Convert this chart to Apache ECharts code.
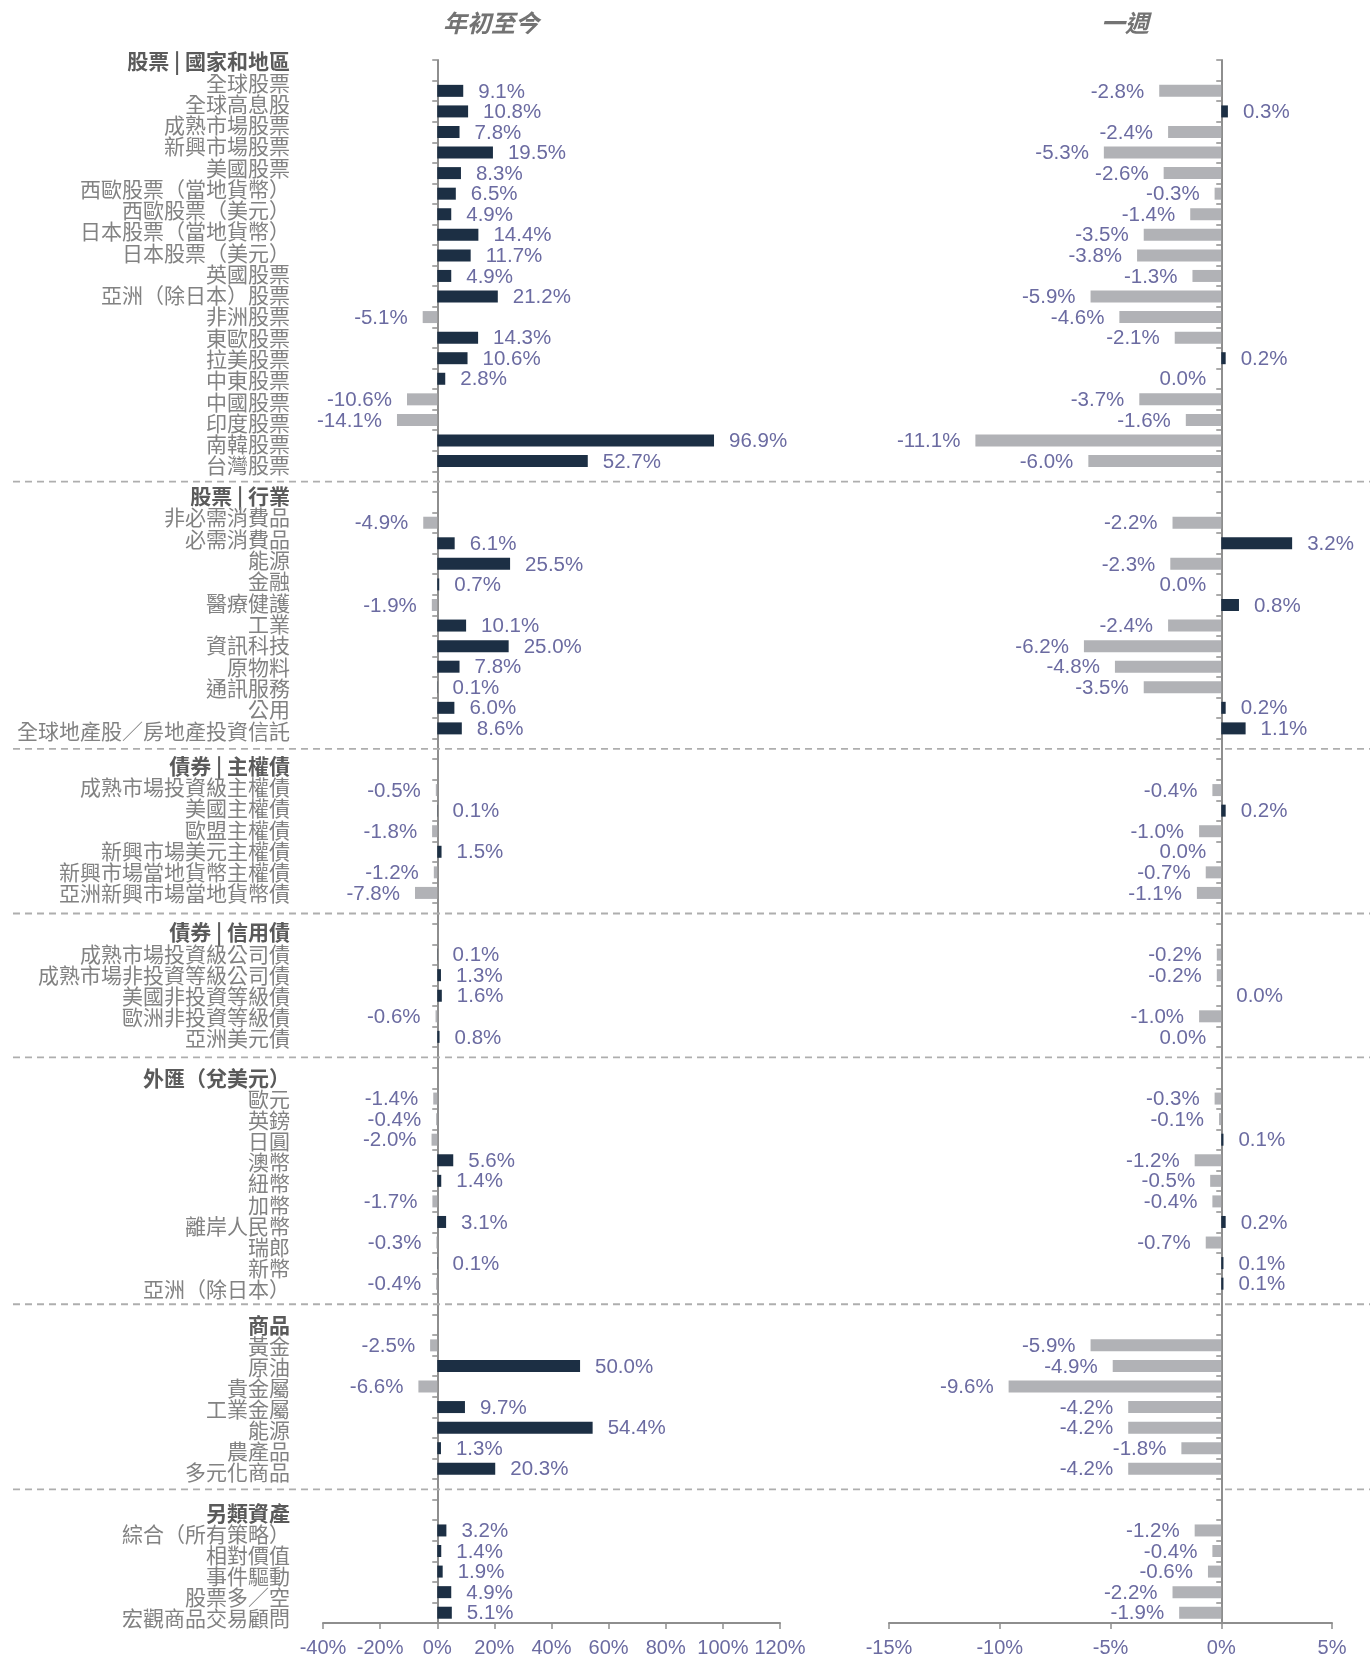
<!DOCTYPE html>
<html>
<head>
<meta charset="utf-8">
<script src="https://cdn.jsdelivr.net/npm/echarts@6/dist/echarts.min.js"></script>
<style>
  html, body { margin: 0; padding: 0; background: #fff; }
  #chart { width: 1370px; height: 1658px; }
</style>
</head>
<body>
<div id="chart"></div>
<script>
// 股票 | 國家和地區
const countryTitle = '股票 | 國家和地區'
const countryNames = ['全球股票', '全球高息股', '成熟市場股票', '新興市場股票', '美國股票', '西歐股票（當地貨幣）', '西歐股票（美元）', '日本股票（當地貨幣）', '日本股票（美元）', '英國股票', '亞洲（除日本）股票', '非洲股票', '東歐股票', '拉美股票', '中東股票', '中國股票', '印度股票', '南韓股票', '台灣股票']
const countryYtd = [9.1, 10.8, 7.8, 19.5, 8.3, 6.5, 4.9, 14.4, 11.7, 4.9, 21.2, -5.1, 14.3, 10.6, 2.8, -10.6, -14.1, 96.9, 52.7]
// -0.0 = a small loss that rounds to 0.0% (its label sits on the left)
const countryWeek = [-2.8, 0.3, -2.4, -5.3, -2.6, -0.3, -1.4, -3.5, -3.8, -1.3, -5.9, -4.6, -2.1, 0.2, -0.0, -3.7, -1.6, -11.1, -6.0]

// 股票 | 行業
const sectorTitle = '股票 | 行業'
const sectorNames = ['非必需消費品', '必需消費品', '能源', '金融', '醫療健護', '工業', '資訊科技', '原物料', '通訊服務', '公用', '全球地產股／房地產投資信託']
const sectorYtd = [-4.9, 6.1, 25.5, 0.7, -1.9, 10.1, 25.0, 7.8, 0.1, 6.0, 8.6]
const sectorWeek = [-2.2, 3.2, -2.3, -0.0, 0.8, -2.4, -6.2, -4.8, -3.5, 0.2, 1.1]

// 債券 | 主權債
const sovTitle = '債券 | 主權債'
const sovNames = ['成熟市場投資級主權債', '美國主權債', '歐盟主權債', '新興市場美元主權債', '新興市場當地貨幣主權債', '亞洲新興市場當地貨幣債']
const sovYtd = [-0.5, 0.1, -1.8, 1.5, -1.2, -7.8]
const sovWeek = [-0.4, 0.2, -1.0, -0.0, -0.7, -1.1]

// 債券 | 信用債
const creditTitle = '債券 | 信用債'
const creditNames = ['成熟市場投資級公司債', '成熟市場非投資等級公司債', '美國非投資等級債', '歐洲非投資等級債', '亞洲美元債']
const creditYtd = [0.1, 1.3, 1.6, -0.6, 0.8]
const creditWeek = [-0.2, -0.2, 0.0, -1.0, -0.0]

// 外匯（兌美元）
const fxTitle = '外匯（兌美元）'
const fxNames = ['歐元', '英鎊', '日圓', '澳幣', '紐幣', '加幣', '離岸人民幣', '瑞郎', '新幣', '亞洲（除日本）']
const fxYtd = [-1.4, -0.4, -2.0, 5.6, 1.4, -1.7, 3.1, -0.3, 0.1, -0.4]
const fxWeek = [-0.3, -0.1, 0.1, -1.2, -0.5, -0.4, 0.2, -0.7, 0.1, 0.1]

// 商品
const cmdTitle = '商品'
const cmdNames = ['黃金', '原油', '貴金屬', '工業金屬', '能源', '農產品', '多元化商品']
const cmdYtd = [-2.5, 50.0, -6.6, 9.7, 54.4, 1.3, 20.3]
const cmdWeek = [-5.9, -4.9, -9.6, -4.2, -4.2, -1.8, -4.2]

// 另類資產
const altTitle = '另類資產'
const altNames = ['綜合（所有策略）', '相對價值', '事件驅動', '股票多／空', '宏觀商品交易顧問']
const altYtd = [3.2, 1.4, 1.9, 4.9, 5.1]
const altWeek = [-1.2, -0.4, -0.6, -2.2, -1.9]

const ytdTicks = { min: -40, max: 120, interval: 20 }
const weekTicks = { min: -15, max: 5, interval: 5 }

const NAVY = '#1c2f44'
const GREY = '#b1b2b6'
const VALUE_COLOR = '#6b6ba1'
const AXIS_COLOR = '#8e8e8e'
const CJK = '"Noto Sans CJK TC", "Noto Sans", sans-serif'
const LATIN = '"Liberation Sans", Arial, sans-serif'

// row labels drift off the bar rows a little inside each block:
// start offset of the block header and extra px per row (negative = up)
const labelStart = [-9, -6.3, -3.2, -1.6, 0, 0, 3.2]
const labelStep = [0.7, 0.77, 0.53, 0.53, 0.53, 0.45, 0.42]

const sections = [
  [countryTitle, countryNames, countryYtd, countryWeek],
  [sectorTitle, sectorNames, sectorYtd, sectorWeek],
  [sovTitle, sovNames, sovYtd, sovWeek],
  [creditTitle, creditNames, creditYtd, creditWeek],
  [fxTitle, fxNames, fxYtd, fxWeek],
  [cmdTitle, cmdNames, cmdYtd, cmdWeek],
  [altTitle, altNames, altYtd, altWeek]
]

// one row per header / item, plus a blank row between sections for the dashed line
const rowKeys = []
const rowText = []
const rowKind = []
const rowShift = []
const ytdRow = []
const weekRow = []
sections.forEach(([title, names, ytd, week], i) => {
  if (i > 0) {
    rowKeys.push('sep' + i); rowText.push(''); rowKind.push('sep'); rowShift.push(0)
    ytdRow.push(null); weekRow.push(null)
  }
  rowKeys.push('head' + i); rowText.push(title); rowKind.push('head'); rowShift.push(labelStart[i])
  ytdRow.push(null); weekRow.push(null)
  names.forEach((n, j) => {
    rowKeys.push('item' + i + '_' + j); rowText.push(n); rowKind.push('item')
    rowShift.push(labelStart[i] + (j + 1) * labelStep[i])
    ytdRow.push(ytd[j]); weekRow.push(week[j])
  })
})

const labelRich = {}
rowKeys.forEach((key, i) => {
  const d = rowShift[i]
  const head = rowKind[i] === 'head'
  labelRich['r' + i] = {
    padding: d < 0 ? [0, 0, -2 * d, 0] : [2 * d, 0, 0, 0],
    fontSize: 21,
    fontFamily: CJK,
    fontWeight: head ? 'bold' : 'normal',
    color: head ? '#5a5a5a' : '#828282'
  }
})

const isNeg = v => v < 0 || Object.is(v, -0)

const barData = vals => vals.map(v => v === null ? '-' : {
  value: v,
  itemStyle: { color: isNeg(v) ? GREY : NAVY },
  label: { position: isNeg(v) ? 'left' : 'right' }
})

const makeSeries = (vals, idx) => ({
  type: 'bar',
  xAxisIndex: idx,
  yAxisIndex: idx,
  data: barData(vals),
  barWidth: 12,
  silent: true,
  label: {
    show: true,
    distance: 15,
    offset: [0, 1],
    color: VALUE_COLOR,
    fontSize: 20.5,
    fontFamily: LATIN,
    formatter: p => vals[p.dataIndex].toFixed(1) + '%'
  }
})

const makeXAxis = (ticks, idx) => ({
  type: 'value',
  gridIndex: idx,
  min: ticks.min,
  max: ticks.max,
  interval: ticks.interval,
  axisLine: { show: true, lineStyle: { color: AXIS_COLOR, width: 2 } },
  axisTick: { show: true, length: 6, lineStyle: { color: AXIS_COLOR, width: 1.5 } },
  splitLine: { show: false },
  axisLabel: { margin: 15, color: VALUE_COLOR, fontSize: 20, fontFamily: LATIN, formatter: '{value}%' }
})

const makeYAxis = (idx, showLabels) => ({
  type: 'category',
  gridIndex: idx,
  data: rowKeys,
  inverse: true,
  axisLine: { show: true, onZero: true, lineStyle: { color: AXIS_COLOR, width: 2 } },
  axisTick: { show: true, interval: 0, length: 5, lineStyle: { color: AXIS_COLOR, width: 1.5 } },
  splitLine: { show: false },
  axisLabel: {
    show: showLabels,
    interval: 0,
    margin: 33,
    fontSize: 21,
    fontFamily: CJK,
    formatter: (val, i) => rowText[i] ? '{r' + i + '|' + rowText[i] + '}' : '',
    rich: labelRich
  }
})

const chart = echarts.init(document.getElementById('chart'))

chart.setOption({
  animation: false,
  backgroundColor: '#fff',
  grid: [
    { left: 323, width: 457, top: 60, height: 1563, containLabel: false, outerBoundsMode: 'none' },
    { left: 889, width: 443, top: 60, height: 1563, containLabel: false, outerBoundsMode: 'none' }
  ],
  xAxis: [makeXAxis(ytdTicks, 0), makeXAxis(weekTicks, 1)],
  yAxis: [makeYAxis(0, true), makeYAxis(1, false)],
  series: [makeSeries(ytdRow, 0), makeSeries(weekRow, 1)]
})

// titles + dashed section separators, placed from the category scale
const titleFont = 'italic bold 24px ' + CJK
const graphics = [
  { type: 'text', x: 491, y: 23, style: { text: '年初至今', fill: '#737373', font: titleFont, align: 'center', verticalAlign: 'middle' } },
  { type: 'text', x: 1125, y: 23, style: { text: '一週', fill: '#737373', font: titleFont, align: 'center', verticalAlign: 'middle' } }
]
rowKind.forEach((k, i) => {
  if (k !== 'sep') return
  const y = chart.convertToPixel({ yAxisIndex: 0 }, i)
  graphics.push({
    type: 'line',
    z: 10,
    shape: { x1: 13, y1: y, x2: 1370, y2: y },
    style: { stroke: '#aeaeae', lineWidth: 1.8, lineDash: [7, 5] }
  })
})
chart.setOption({ graphic: graphics })

window.addEventListener('resize', () => chart.resize())
</script>
</body>
</html>
